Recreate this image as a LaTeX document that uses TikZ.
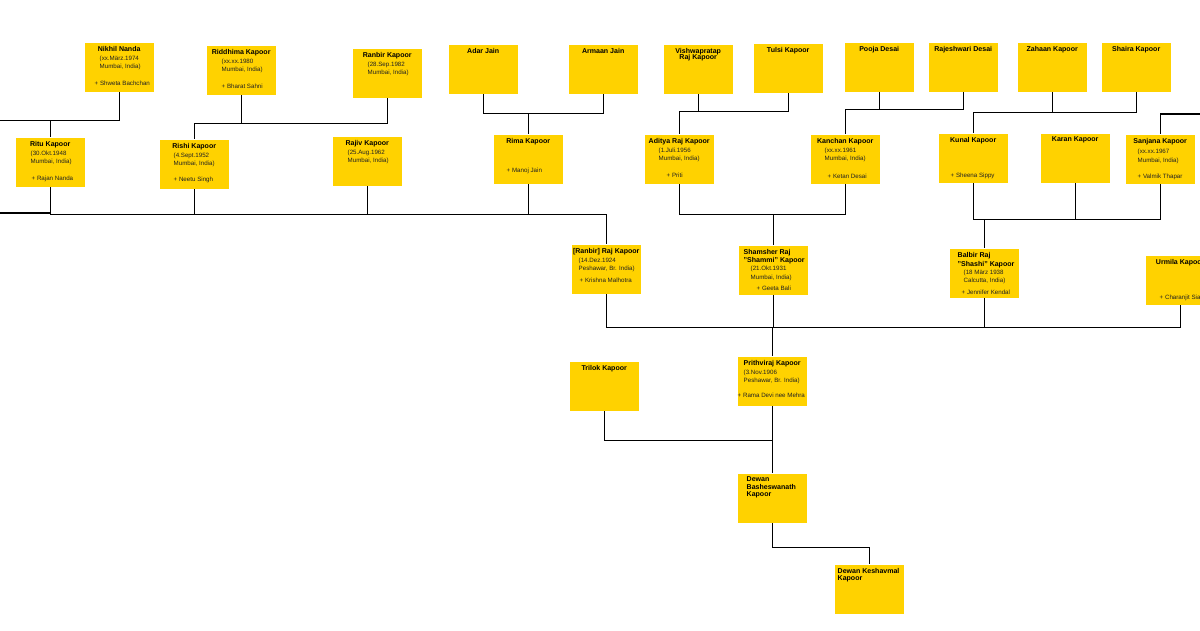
\documentclass[tikz,border=0pt]{standalone}
\usepackage{fontspec}
\setmainfont{Liberation Sans}
\definecolor{cardyellow}{HTML}{FFD200}
\definecolor{cardtext}{HTML}{222222}
\newlength{\px}\setlength{\px}{0.025cm}
% one yellow card, text hung from the top
\newcommand{\card}[1]{\parbox[c][49\px][t]{69\px}{\raggedright\fontsize{4.4pt}{8.3\px}\selectfont\color{cardtext}\vspace*{3.4\px}#1}}
\newcommand{\nm}[1]{\makebox[\linewidth][c]{\fontsize{5pt}{6pt}\selectfont\bfseries\color{black}#1}}
\newcommand{\nml}[2]{\hspace*{#1\px}{\fontsize{5pt}{6pt}\selectfont\bfseries\color{black}#2}}
\newcommand{\ind}[1]{\hspace*{#1\px}}
\begin{document}
\begin{tikzpicture}[x=0.025cm,y=-0.025cm,line width=1.4\px,every node/.style={fill=cardyellow,anchor=north west,inner sep=0pt}]
\fill[white] (0,0) rectangle (1200,630);
\clip (0,0) rectangle (1200,630);
% generation of the grandchildren
\node (lft) at (-68,40) {\card{}};
\node (nikhil) at (84,42) {\card{\nm{Nikhil Nanda}\\[1.2\px]\ind{15}(xx.März.1974\\\ind{15}Mumbai, India)\\[8.2\px]\ind{10}+ Shweta Bachchan}};
\node (riddhima) at (206,45) {\card{\nm{Riddhima Kapoor}\\[1.2\px]\ind{15}(xx.xx.1980\\\ind{15}Mumbai, India)\\[8.2\px]\ind{15}+ Bharat Sahni}};
\node (ranbir) at (352,48) {\card{\nm{Ranbir Kapoor}\\[1.2\px]\ind{15}(28.Sep.1982\\\ind{15}Mumbai, India)}};
\node (adar) at (448,44) {\card{\nm{Adar Jain}}};
\node (armaan) at (568,44) {\card{\nm{Armaan Jain}}};
\node (vishwa) at (663,44) {\card{\nm{Vishwapratap}\\[-1.6\px]\nm{Raj Kapoor}}};
\node (tulsi) at (753,43) {\card{\nm{Tulsi Kapoor}}};
\node (pooja) at (844,42) {\card{\nm{Pooja Desai}}};
\node (rajeshwari) at (928,42) {\card{\nm{Rajeshwari Desai}}};
\node (zahaan) at (1017,42) {\card{\nm{Zahaan Kapoor}}};
\node (shaira) at (1101,42) {\card{\nm{Shaira Kapoor}}};
% children of the three brothers
\node (ritu) at (15,137) {\card{\nm{Ritu Kapoor}\\[1.2\px]\ind{15}(30.Okt.1948\\\ind{15}Mumbai, India)\\[7.8\px]\ind{16}+ Rajan Nanda}};
\node (rishi) at (159,139) {\card{\nm{Rishi Kapoor}\\[1.2\px]\ind{14}(4.Sept.1952\\\ind{14}Mumbai, India)\\[7.5\px]\ind{14}+ Neetu Singh}};
\node (rajiv) at (332,136) {\card{\nm{Rajiv Kapoor}\\[1.2\px]\ind{15}(25.Aug.1962\\\ind{15}Mumbai, India)}};
\node (rima) at (493,134) {\card{\nm{Rima Kapoor}\\[21.4\px]\ind{13}+ Manoj Jain}};
\node (aditya) at (644,134) {\card{\nm{Aditya Raj Kapoor}\\[1.2\px]\ind{14}(1.Juli.1956\\\ind{14}Mumbai, India)\\[7.8\px]\ind{22}+ Priti}};
\node (kanchan) at (810,134) {\card{\nm{Kanchan Kapoor}\\[1.2\px]\ind{14}(xx.xx.1961\\\ind{14}Mumbai, India)\\[8.8\px]\ind{17}+ Ketan Desai}};
\node (kunal) at (938,133) {\card{\nm{Kunal Kapoor}\\[27.5\px]\ind{12}+ Sheena Sippy}};
\node (karan) at (1040,133) {\card{\nm{Karan Kapoor}}};
\node (sanjana) at (1125,134) {\card{\nm{Sanjana Kapoor}\\[2.5\px]\ind{12}(xx.xx.1967\\\ind{12}Mumbai, India)\\[8.4\px]\ind{12}+ Valmik Thapar}};
% the four children of Prithviraj
\node (rajkapoor) at (571,244) {\card{\nm{[Ranbir] Raj Kapoor}\\[0.6\px]\ind{7}(14.Dez.1924\\\ind{7}Peshawar, Br. India)\\[3.6\px]\ind{8}+ Krishna Malhotra}};
\node (shammi) at (738,245) {\card{\nml{5}{Shamsher Raj}\\\nml{5}{"Shammi" Kapoor}\\\ind{12}(21.Okt.1931\\\ind{12}Mumbai, India)\\[2.7\px]\ind{18}+ Geeta Bali}};
\node (shashi) at (949,248) {\card{\nml{8}{Balbir Raj}\\[0.7\px]\nml{8}{"Shashi" Kapoor}\\\ind{14}(18 März 1938\\\ind{14}Calcutta, India)\\[3.6\px]\ind{12}+ Jennifer Kendal}};
\node (urmila) at (1145,255) {\card{\nm{Urmila Kapoor}\\[26.7\px]\ind{14}+ Charanjit Sial}};
% older generations
\node (trilok) at (569,361) {\card{\nm{Trilok Kapoor}}};
\node (prithvi) at (737,356) {\card{\nm{Prithviraj Kapoor}\\[0.7\px]\ind{6}(3.Nov.1906\\\ind{6}Peshawar, Br. India)\\[6.7\px]+ Rama Devi nee Mehra}};
\node (basheswar) at (737,473) {\card{\nml{9}{Dewan}\\[-1\px]\nml{9}{Basheswanath}\\[-1\px]\nml{9}{Kapoor}}};
\node (keshavmal) at (834,564) {\card{\nml{3}{Dewan Keshavmal}\\[-1\px]\nml{3}{Kapoor}}};
\coordinate (offl) at (-10,213); \coordinate (offr) at (1210,114);
\draw (lft.south)--++(0,30)-|(ritu.north);\draw (nikhil.south)--++(0,28)-|(ritu.north);
\draw (riddhima.south)--++(0,28)-|(rishi.north);\draw (ranbir.south)--++(0,25)-|(rishi.north);
\draw (adar.south)--++(0,19)-|(rima.north);\draw (armaan.south)--++(0,19)-|(rima.north);
\draw (vishwa.south)--++(0,17)-|(aditya.north);\draw (tulsi.south)--++(0,18)-|(aditya.north);
\draw (pooja.south)--++(0,17)-|(kanchan.north);\draw (rajeshwari.south)--++(0,17)-|(kanchan.north);
\draw (zahaan.south)--++(0,20)-|(kunal.north);\draw (shaira.south)--++(0,20)-|(kunal.north);
\draw (sanjana.north)|-(offr);
\draw (offl)-|(ritu.south);\draw (ritu.south)--++(0,27)-|(rajkapoor.north);\draw (rishi.south)--++(0,25)-|(rajkapoor.north);
\draw (rajiv.south)--++(0,28)-|(rajkapoor.north);\draw (rima.south)--++(0,30)-|(rajkapoor.north);
\draw (aditya.south)--++(0,30)-|(shammi.north);\draw (kanchan.south)--++(0,30)-|(shammi.north);
\draw (kunal.south)--++(0,36)-|(shashi.north);\draw (karan.south)--++(0,36)-|(shashi.north);\draw (sanjana.south)--++(0,35)-|(shashi.north);
\draw (rajkapoor.south)--++(0,33)-|(prithvi.north);\draw (shammi.south)--++(0,32)-|(prithvi.north);
\draw (shashi.south)--++(0,29)-|(prithvi.north);\draw (urmila.south)--++(0,22)-|(prithvi.north);
\draw (trilok.south)--++(0,29)-|(basheswar.north);\draw (prithvi.south)--(basheswar.north);
\draw (basheswar.south)--++(0,24)-|(keshavmal.north);
\end{tikzpicture}
\end{document}
